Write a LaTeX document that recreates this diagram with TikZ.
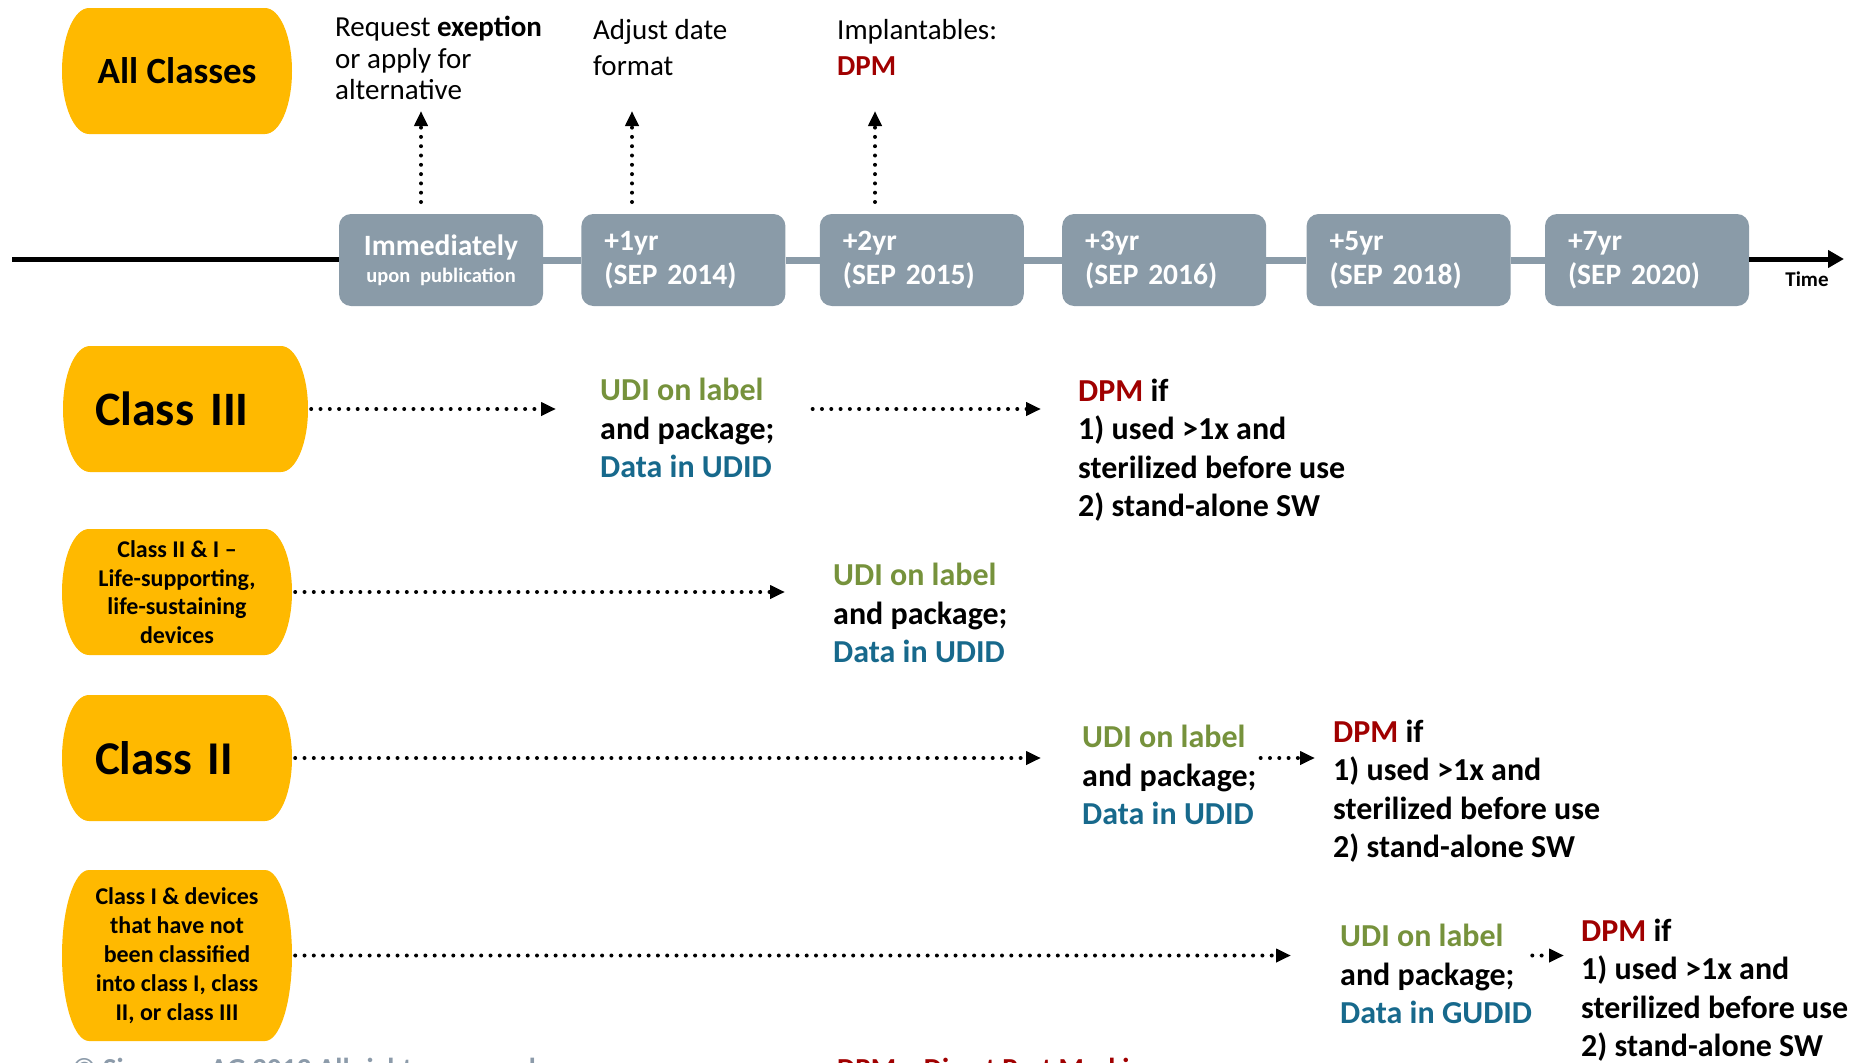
\documentclass[tikz,border=0pt]{standalone}
\usepackage{fontspec}
\setmainfont{Carlito}
\usepackage{tikz}
\usetikzlibrary{positioning, arrows.meta, calc}
\definecolor{classyellow}{RGB}{255, 185, 0}
\definecolor{boxgray}{RGB}{138, 155, 168}
\definecolor{udigreen}{RGB}{118, 146, 60}
\definecolor{udiblue}{RGB}{23, 105, 140}
\definecolor{dpmred}{RGB}{160, 0, 0}
\definecolor{footgray}{RGB}{140, 155, 170}
\newcommand{\fsz}[2]{\fontsize{#1}{#2}\selectfont}
\tikzset{
  blob/.style={fill=white, inner sep=0pt, minimum height=126pt, align=center,
    path picture={
      \path (path picture bounding box.north west) coordinate (bNW)
            (path picture bounding box.north east) coordinate (bNE)
            (path picture bounding box.south west) coordinate (bSW)
            (path picture bounding box.south east) coordinate (bSE)
            (path picture bounding box.west) coordinate (bW)
            (path picture bounding box.east) coordinate (bE);
      \path ([xshift=27pt]bNW) coordinate (bT1) ([xshift=-27pt]bNE) coordinate (bT2)
            ([xshift=27pt]bSW) coordinate (bB1) ([xshift=-27pt]bSE) coordinate (bB2);
      \fill[classyellow] (bT1) -- (bT2)
        .. controls ($(bT2)!0.552!(bNE)$) and ($(bE)!0.552!(bNE)$) .. (bE)
        .. controls ($(bE)!0.552!(bSE)$) and ($(bB2)!0.552!(bSE)$) .. (bB2)
        -- (bB1)
        .. controls ($(bB1)!0.552!(bSW)$) and ($(bW)!0.552!(bSW)$) .. (bW)
        .. controls ($(bW)!0.552!(bNW)$) and ($(bT1)!0.552!(bNW)$) .. (bT1) -- cycle;
    }},
  tbox/.style={fill=boxgray, rounded corners=12pt, minimum height=92pt, text width=158pt,
    inner xsep=23pt, inner ysep=0pt, align=left, text=white, font=\bfseries\fsz{29.5}{34}},
  tlink/.style={boxgray, line width=7pt},
  note/.style={inner sep=0pt, align=left, anchor=west},
  rownote/.style={note, font=\bfseries\fsz{32}{38.5}},
  dotarrow/.style={line width=4pt, line cap=round, dash pattern=on 0pt off 9.3pt,
    -{Triangle[length=15pt, width=13pt]}},
}
\begin{document}
\begin{tikzpicture}[x=1pt, y=-1pt]
  \useasboundingbox (0,0) rectangle (1864,1063);
  \clip (0,0) rectangle (1864,1063);

  % class blobs
  \node[blob, minimum width=230pt, font=\bfseries\fsz{37}{40}] (allc) at (177,71) {All Classes};
  \node[blob, text width=181pt, inner xsep=32pt, align=left, font=\bfseries\fsz{48}{52}] (c3) at (185.5,409) {Class III};
  \node[blob, minimum width=230pt, font=\bfseries\fsz{24}{28.5}] (c21) at (177,592)
    {Class II \& I –\\Life-supporting,\\life-sustaining\\devices};
  \node[blob, text width=164pt, inner xsep=33pt, align=left, font=\bfseries\fsz{47}{52}] (c2) at (177,758) {Class II};
  \node[blob, minimum width=230pt, minimum height=171pt, font=\bfseries\fsz{24}{29}] (c1) at (177,955.5)
    {Class I \& devices\\that have not\\been classified\\into class I, class\\II, or class III};

  % timeline
  \node[tbox, align=center, font=\bfseries\fsz{29.5}{27}] (b0) at (441,260) {Immediately\\{\fsz{20.5}{27}upon publication}};
  \node[tbox, right=38pt of b0] (b1) {+1yr\\(SEP 2014)};
  \node[tbox, right=34pt of b1] (b2) {+2yr\\(SEP 2015)};
  \node[tbox, right=38pt of b2] (b3) {+3yr\\(SEP 2016)};
  \node[tbox, right=40pt of b3] (b4) {+5yr\\(SEP 2018)};
  \node[tbox, right=34pt of b4] (b5) {+7yr\\(SEP 2020)};
  \coordinate (tstart) at (12,259);
  \coordinate (tend) at (1844,259);
  \draw[line width=5pt] (tstart) -- (tstart -| b0.west);
  \draw[tlink] (b0) -- (b1);
  \draw[tlink] (b1) -- (b2);
  \draw[tlink] (b2) -- (b3);
  \draw[tlink] (b3) -- (b4);
  \draw[tlink] (b4) -- (b5);
  \draw[line width=5pt, -{Triangle[length=16pt, width=17pt]}] (tend -| b5.east) -- (tend);
  \node[font=\bfseries\fsz{21}{24}, inner sep=0pt] (time) at (1807,279) {Time};

  % notes above the timeline
  \node[note, font=\fsz{29}{31.5}] (n0) at (335,58) {Request \textbf{exeption}\\or apply for\\alternative};
  \node[note, font=\fsz{29}{36}] (n1) at (593,47.5) {Adjust date\\format};
  \node[note, font=\fsz{29}{36}] (n2) at (837,47.5) {Implantables:\\\textcolor{dpmred}{\textbf{DPM}}};
  \coordinate (up0) at (421,202); \coordinate (tip0) at (421,111);
  \coordinate (up1) at (632,202); \coordinate (tip1) at (632,111);
  \coordinate (up2) at (875,202); \coordinate (tip2) at (875,111);
  \draw[dotarrow] (up0) -- (tip0);
  \draw[dotarrow] (up1) -- (tip1);
  \draw[dotarrow] (up2) -- (tip2);

  % Class III
  \node[rownote] (u3) at (600,428) {\textcolor{udigreen}{UDI on label}\\and package;\\\textcolor{udiblue}{Data in UDID}};
  \node[rownote] (d3) at (1078,450) {\textcolor{dpmred}{DPM} if\\1) used >1x and\\sterilized before use\\2) stand-alone SW};
  \draw[dotarrow, shorten <=3pt, shorten >=44pt] (c3.east) -- (c3.east -| u3.west);
  \draw[dotarrow, shorten <=38pt, shorten >=37pt] (u3.east |- c3.east) -- (d3.west |- c3.east);

  % Class II & I
  \node[rownote] (u21) at (833,613) {\textcolor{udigreen}{UDI on label}\\and package;\\\textcolor{udiblue}{Data in UDID}};
  \draw[dotarrow, shorten <=3pt, shorten >=48pt] (c21.east) -- (c21.east -| u21.west);

  % Class II
  \node[rownote] (u2) at (1082,775) {\textcolor{udigreen}{UDI on label}\\and package;\\\textcolor{udiblue}{Data in UDID}};
  \node[rownote] (d2) at (1333,791) {\textcolor{dpmred}{DPM} if\\1) used >1x and\\sterilized before use\\2) stand-alone SW};
  \draw[dotarrow, shorten <=3pt, shorten >=41pt] (c2.east) -- (c2.east -| u2.west);
  \draw[dotarrow, shorten <=4pt, shorten >=18pt] (u2.east |- c2.east) -- (d2.west |- c2.east);

  % Class I
  \node[rownote] (u1) at (1340,974) {\textcolor{udigreen}{UDI on label}\\and package;\\\textcolor{udiblue}{Data in GUDID}};
  \node[rownote] (d1) at (1581,990) {\textcolor{dpmred}{DPM} if\\1) used >1x and\\sterilized before use\\2) stand-alone SW};
  \draw[dotarrow, shorten <=3pt, shorten >=49pt] (c1.east) -- (c1.east -| u1.west);
  \draw[dotarrow, shorten <=0pt, shorten >=17pt] (u1.east |- c1.east) -- (d1.west |- c1.east);

  % footer (cut by the page edge)
  \node[anchor=base west, inner sep=0pt, text=footgray, font=\bfseries\fsz{29}{32}] (copy) at (72,1078) {© Siemens AG 2013 All rights reserved};
  \node[anchor=base west, inner sep=0pt, text=dpmred, font=\bfseries\fsz{29}{32}] (dpmdef) at (837,1078) {DPM = Direct Part Marking};
\end{tikzpicture}
\end{document}
